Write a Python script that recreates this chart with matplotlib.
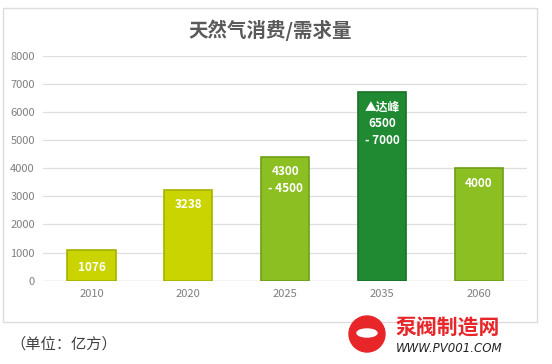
import matplotlib.pyplot as plt
from matplotlib.patches import Rectangle, Circle, Ellipse

plt.rcParams['font.family'] = ['Noto Sans CJK SC', 'DejaVu Sans']

# data
years = ["2010", "2020", "2025", "2035", "2060"]
values = [1076, 3238, 4400, 6700, 4000]
bar_labels = ["1076", "3238", "4300\n- 4500", "▲达峰\n6500\n- 7000", "4000"]
yticks = [0, 1000, 2000, 3000, 4000, 5000, 6000, 7000, 8000]

face_colors = ["#c9d400", "#c9d400", "#8cbf22", "#1f8a32", "#8cbf22"]
edge_colors = ["#a6b000", "#a6b000", "#6f9e18", "#187028", "#6f9e18"]

fig = plt.figure(figsize=(5.52, 3.64), dpi=100)
ax = fig.add_axes([0.078, 0.229, 0.877, 0.618])

x = range(len(years))
ax.bar(x, values, width=0.5, color=face_colors, edgecolor=edge_colors,
       linewidth=1.2, zorder=3)

for i, (v, lab) in enumerate(zip(values, bar_labels)):
    off = -8 if i == 0 else -6
    ax.annotate(lab, xy=(i, v), xytext=(0, off), textcoords="offset points",
                ha="center", va="top", color="white", fontsize=8.5,
                fontweight="bold", linespacing=1.35, zorder=4)

ax.set_xlim(-0.5, len(years) - 0.5)
ax.set_ylim(0, 8000)
ax.set_yticks(yticks)
ax.set_xticks(list(x))
ax.set_xticklabels(years)
ax.tick_params(axis="both", length=0, colors="#7f7f7f", labelsize=8)
ax.tick_params(axis="y", pad=6)
ax.tick_params(axis="x", pad=6)
ax.grid(axis="y", color="#dedede", linewidth=0.9, zorder=0)
for s in ax.spines.values():
    s.set_visible(False)
ax.axhline(0, color="#d0d0d0", linewidth=0.9, zorder=2)

# chart frame
fig.patches.append(Rectangle((3 / 552, 1 - 322 / 364), 534 / 552, 314 / 364,
                             transform=fig.transFigure, fill=False,
                             edgecolor="#dcdcdc", linewidth=1.0))

fig.text(0.49, 1 - 30 / 364, "天然气消费/需求量", ha="center", va="center",
         fontsize=14, fontweight="bold", color="#595959")

fig.text(10 / 552, 1 - 344 / 364, "（单位：亿方）", ha="left", va="center",
         fontsize=11, color="#404040")

# watermark
fig.patches.append(Circle((3.67, 0.30), 0.18, transform=fig.dpi_scale_trans,
                          color="#e8262a"))
fig.patches.append(Ellipse((3.67, 0.31), 0.2, 0.08, transform=fig.dpi_scale_trans,
                           color="white"))
fig.text(396 / 552, 1 - 328 / 364, "泵阀制造网", ha="left", va="center",
         fontsize=15, fontweight="bold", color="#e8262a")
fig.text(396 / 552, 1 - 349 / 364, "WWW.PV001.COM", ha="left", va="center",
         fontsize=8.5, style="italic", color="#222222", family="DejaVu Sans")

fig.savefig("out.png", dpi=100)
